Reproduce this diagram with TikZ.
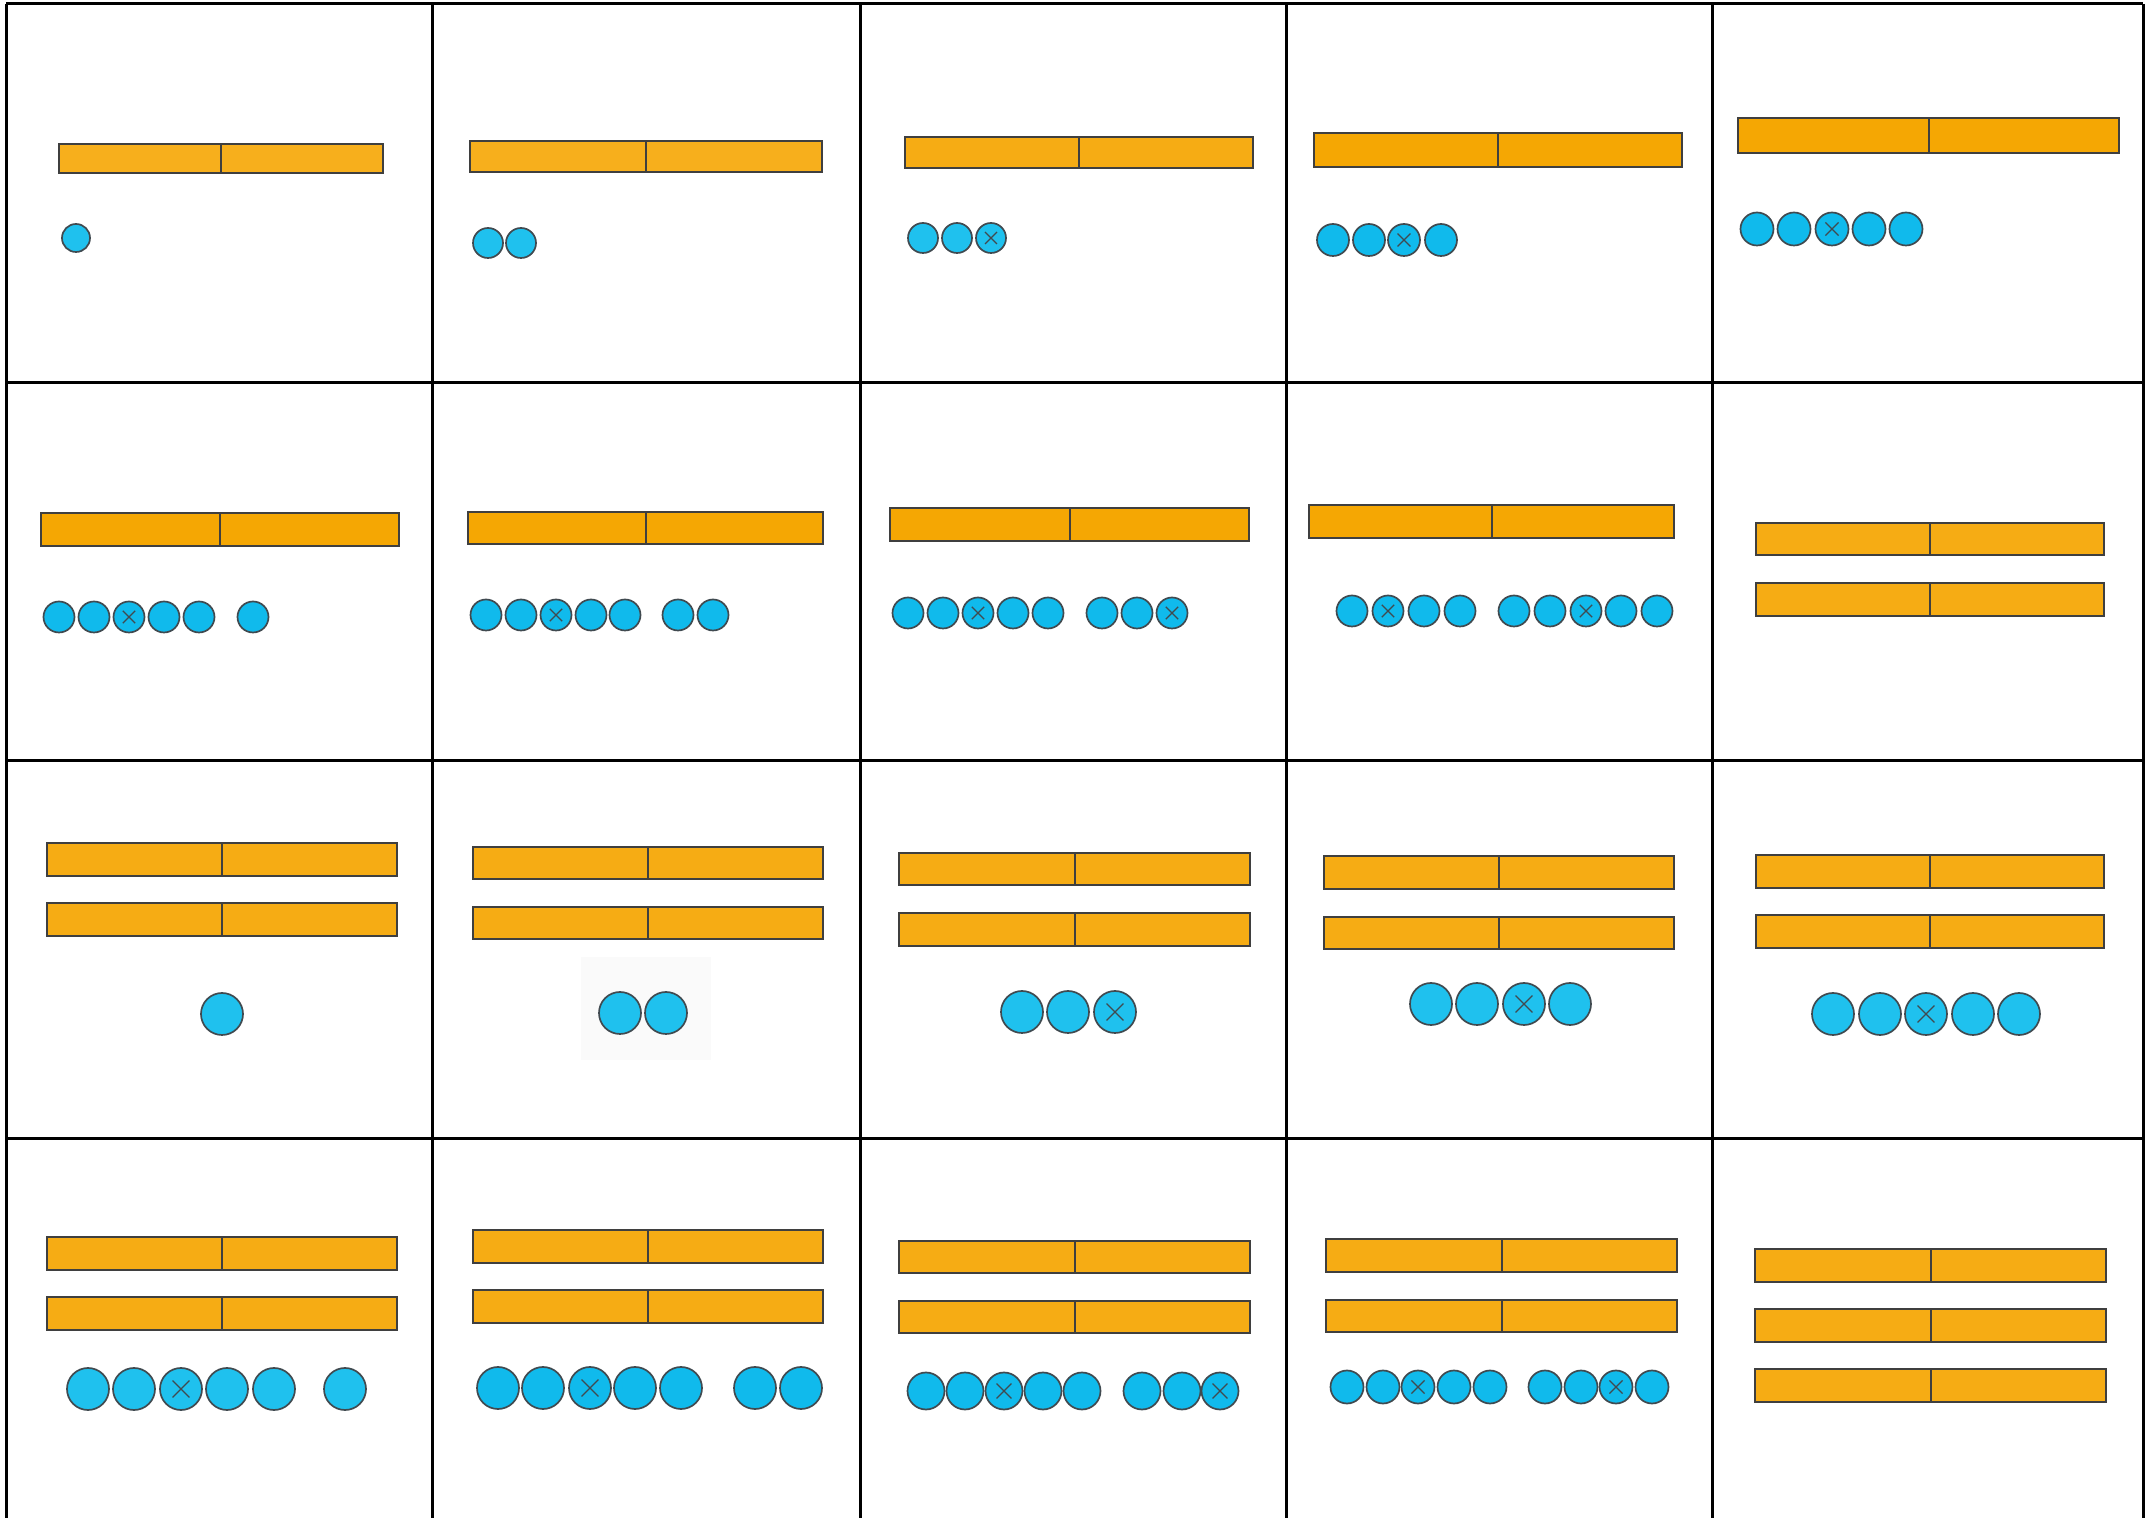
\documentclass[tikz,border=0pt]{standalone}
\usetikzlibrary{calc}
\definecolor{orA}{HTML}{F7AF1C}
\definecolor{orB}{HTML}{F5A703}
\definecolor{orC}{HTML}{F6AC14}
\definecolor{blA}{HTML}{1FC1EE}
\definecolor{blB}{HTML}{10BAEC}
\definecolor{edge}{HTML}{3F3F3F}
\definecolor{cedge}{HTML}{404A50}
\definecolor{faint}{HTML}{FAFAFA}
\tikzset{
  tbl/.style={line width=0.3mm, black},
  tbarst/.style={draw=edge, line width=0.2mm, inner sep=0pt, outer sep=0pt, rectangle},
  tbarline/.style={draw=edge, line width=0.2mm},
  cnt/.style={circle, draw=cedge, line width=0.17mm, fill=blA, inner sep=0pt, outer sep=0pt},
  cntx/.style={cnt, path picture={
     \draw[cedge, line width=0.13mm]
       ($(path picture bounding box.center)!0.4!(path picture bounding box.north east)$) --
       ($(path picture bounding box.center)!0.4!(path picture bounding box.south west)$)
       ($(path picture bounding box.center)!0.4!(path picture bounding box.north west)$) --
       ($(path picture bounding box.center)!0.4!(path picture bounding box.south east)$);}},
}
% bar: name, x1, y1, x2, y2, colour
\newcommand\tbar[6]{%
  \node[tbarst, fill=#6, minimum width={(#4-#2)*0.1mm}, minimum height={(#5-#3)*0.1mm}] (#1) at ({(#2+#4)/2},{(#3+#5)/2}) {};
  \draw[tbarline] (#1.north) -- (#1.south);}
% counters: id, y, radius, plain x list, crossed x list, fill
\newcommand\crow[6]{%
  \foreach \xx [count=\k] in {#4} {\node[cnt, fill=#6, minimum size={#3*0.2mm}] (#1-p\k) at (\xx,#2) {};}
  \if\relax\detokenize{#5}\relax\else
  \foreach \xx [count=\k] in {#5} {\node[cntx, fill=#6, minimum size={#3*0.2mm}] (#1-x\k) at (\xx,#2) {};}
  \fi}
\begin{document}
\begin{tikzpicture}[x=0.1mm, y=-0.1mm]
\useasboundingbox (0,0) rectangle (2145,1518);
% table grid
\foreach \vx in {6,432,860,1286,1712,2143} \draw[tbl] (\vx,4) -- (\vx,1518);
\foreach \hy in {4,383,761,1139} \draw[tbl] (6,\hy) -- (2143,\hy);
% ---------- row 1
\tbar{b11}{59}{144}{383}{173}{orA}
\crow{c11}{238}{14}{76}{}{blA}
\tbar{b12}{470}{141}{822}{172}{orA}
\crow{c12}{243}{15}{488,521}{}{blA}
\tbar{b13}{905}{137}{1253}{168}{orC}
\crow{c13}{238}{15}{923,957}{991}{blA}
\tbar{b14}{1314}{133}{1682}{167}{orB}
\crow{c14}{240}{16}{1333,1369,1441}{1404}{blB}
\tbar{b15}{1738}{118}{2119}{153}{orB}
\crow{c15}{229}{16.5}{1757,1794,1869,1906}{1832}{blB}
% ---------- row 2
\tbar{b21}{41}{513}{399}{546}{orB}
\crow{c21}{617}{15.5}{59,94,164,199,253}{129}{blB}
\tbar{b22}{468}{512}{823}{544}{orB}
\crow{c22}{615}{15.5}{486,521,591,625,678,713}{556}{blB}
\tbar{b23}{890}{508}{1249}{541}{orB}
\crow{c23}{613}{15.5}{908,943,1013,1048,1102,1137}{978,1172}{blB}
\tbar{b24}{1309}{505}{1674}{538}{orB}
\crow{c24}{611}{15.5}{1352,1424,1460,1514,1550,1621,1657}{1388,1586}{blB}
\tbar{b25a}{1756}{523}{2104}{555}{orC}
\tbar{b25b}{1756}{583}{2104}{616}{orC}
% ---------- row 3
\tbar{b31a}{47}{843}{397}{876}{orC}
\tbar{b31b}{47}{903}{397}{936}{orC}
\crow{c31}{1014}{21}{222}{}{blA}
\fill[faint] (581,957) rectangle (711,1060);
\tbar{b32a}{473}{847}{823}{879}{orC}
\tbar{b32b}{473}{907}{823}{939}{orC}
\crow{c32}{1013}{21}{620,666}{}{blA}
\tbar{b33a}{899}{853}{1250}{885}{orC}
\tbar{b33b}{899}{913}{1250}{946}{orC}
\crow{c33}{1012}{21}{1022,1068}{1115}{blA}
\tbar{b34a}{1324}{856}{1674}{889}{orC}
\tbar{b34b}{1324}{917}{1674}{949}{orC}
\crow{c34}{1004}{21}{1431,1477,1570}{1524}{blA}
\tbar{b35a}{1756}{855}{2104}{888}{orC}
\tbar{b35b}{1756}{915}{2104}{948}{orC}
\crow{c35}{1014}{21}{1833,1880,1973,2019}{1926}{blA}
% ---------- row 4
\tbar{b41a}{47}{1237}{397}{1270}{orC}
\tbar{b41b}{47}{1297}{397}{1330}{orC}
\crow{c41}{1389}{21}{88,134,227,274,345}{181}{blA}
\tbar{b42a}{473}{1230}{823}{1263}{orC}
\tbar{b42b}{473}{1290}{823}{1323}{orC}
\crow{c42}{1388}{21}{498,543,635,681,755,801}{590}{blB}
\tbar{b43a}{899}{1241}{1250}{1273}{orC}
\tbar{b43b}{899}{1301}{1250}{1333}{orC}
\crow{c43}{1391}{18.5}{926,965,1043,1082,1142,1182}{1004,1220}{blB}
\tbar{b44a}{1326}{1239}{1677}{1272}{orC}
\tbar{b44b}{1326}{1300}{1677}{1332}{orC}
\crow{c44}{1387}{16.5}{1347,1383,1454,1490,1545,1581,1652}{1418,1616}{blB}
\tbar{b45a}{1755}{1249}{2106}{1282}{orC}
\tbar{b45b}{1755}{1309}{2106}{1342}{orC}
\tbar{b45c}{1755}{1369}{2106}{1402}{orC}
\end{tikzpicture}
\end{document}
